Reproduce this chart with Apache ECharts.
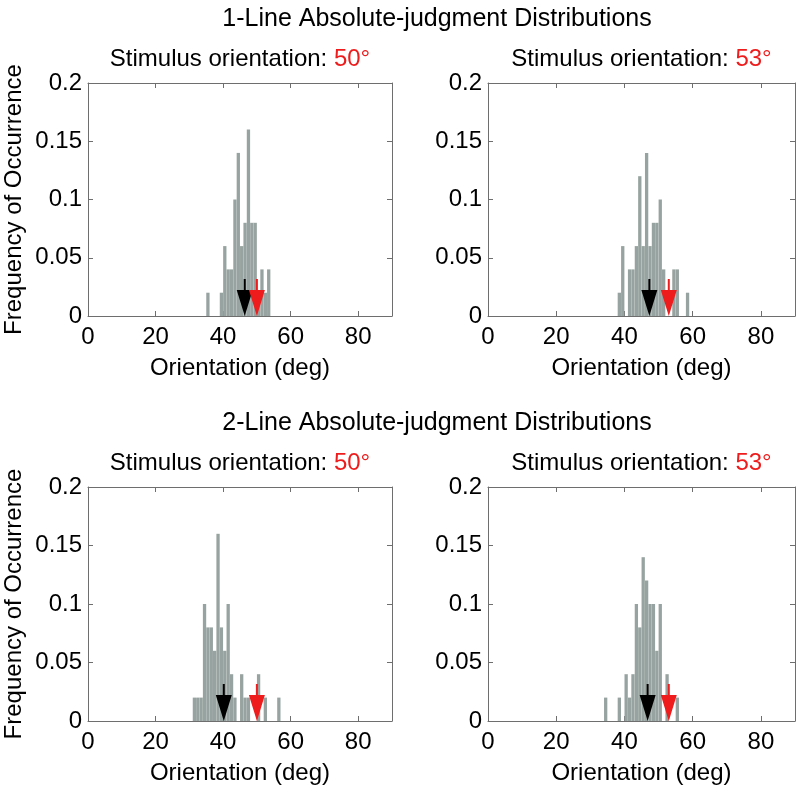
<!DOCTYPE html>
<html>
<head>
<meta charset="utf-8">
<script src="https://cdn.jsdelivr.net/npm/echarts@6.0.0/dist/echarts.min.js"></script>
<style>
  html, body { margin: 0; padding: 0; background: #fff; }
  #main { width: 796px; height: 789px; }
</style>
</head>
<body>
<div id="main"></div>
<script>
// histogram bins (left edge, deg) and frequencies
const oneLine50Bins = [35, 39, 40, 41, 42, 43, 44, 45, 46, 47, 48, 49, 50, 51, 52, 53];
const oneLine50Freq = [0.02, 0.02, 0.06, 0.04, 0.04, 0.10, 0.14, 0.06, 0.08, 0.16, 0.08, 0.08, 0.02, 0.04, 0.02, 0.04];

const oneLine53Bins = [38, 39, 41, 42, 43, 44, 45, 46, 47, 48, 49, 50, 51, 54, 55, 58];
const oneLine53Freq = [0.02, 0.06, 0.04, 0.04, 0.06, 0.12, 0.06, 0.14, 0.06, 0.08, 0.08, 0.10, 0.04, 0.04, 0.04, 0.02];

const twoLine50Bins = [31, 32, 33, 34, 35, 36, 37, 38, 39, 40, 41, 42, 43, 45, 46, 47, 50, 52, 56];
const twoLine50Freq = [0.02, 0.02, 0.02, 0.10, 0.08, 0.08, 0.06, 0.16, 0.08, 0.06, 0.10, 0.04, 0.02, 0.04, 0.02, 0.02, 0.04, 0.02, 0.02];

const twoLine53Bins = [34, 38, 40, 41, 42, 43, 44, 45, 46, 47, 48, 49, 50, 52, 55];
const twoLine53Freq = [0.02, 0.02, 0.04, 0.02, 0.04, 0.10, 0.08, 0.14, 0.12, 0.10, 0.10, 0.06, 0.10, 0.04, 0.02];

// arrows: mean response (black) and stimulus orientation (red)
const meanResponse = [46.4, 47.3, 40.2, 46.8];
const stimulusDeg = [50, 53, 50, 53];

const rowTitles = ['1-Line Absolute-judgment Distributions', '2-Line Absolute-judgment Distributions'];
const xTicks = { min: 0, max: 90, interval: 20 };
const yTicks = { min: 0, max: 0.2, interval: 0.05 };
const binWidth = 1;

const panels = [
  { bins: oneLine50Bins, freq: oneLine50Freq },
  { bins: oneLine53Bins, freq: oneLine53Freq },
  { bins: twoLine50Bins, freq: twoLine50Freq },
  { bins: twoLine53Bins, freq: twoLine53Freq }
];

const font = 'Liberation Sans, Arial, Helvetica, sans-serif';
const frameColor = '#6e6e6e';
const barColor = '#97a3a0';
const red = '#ee1c1c';
const arrowPath = 'path://M7,0 L9,0 L9,11 L16,11 L8,37 L0,11 L7,11 Z';

const grids = [
  { left: 88, top: 83, width: 304, height: 233 },
  { left: 488, top: 83, width: 307, height: 233 },
  { left: 88, top: 487, width: 304, height: 234 },
  { left: 488, top: 487, width: 307, height: 234 }
];

const xAxes = [];
const yAxes = [];
const series = [];

panels.forEach(function (p, i) {
  const leftCol = i % 2 === 0;
  const common = {
    gridIndex: i,
    axisLine: { show: true, onZero: false, lineStyle: { color: frameColor, width: 1 } },
    axisTick: { show: true, inside: true, length: 5, lineStyle: { color: frameColor } },
    splitLine: { show: false }
  };
  xAxes.push(Object.assign({}, common, {
    type: 'value', position: 'bottom',
    min: xTicks.min, max: xTicks.max, interval: xTicks.interval,
    name: 'Orientation (deg)', nameLocation: 'middle', nameGap: 40,
    nameTextStyle: { fontFamily: font, fontSize: 24, color: '#000' },
    axisLabel: { show: true, margin: 9, showMaxLabel: false, fontFamily: font, fontSize: 24, color: '#000' }
  }));
  xAxes.push(Object.assign({}, common, {
    type: 'value', position: 'top',
    min: xTicks.min, max: xTicks.max, interval: xTicks.interval,
    axisLabel: { show: false }
  }));
  yAxes.push(Object.assign({}, common, {
    type: 'value', position: 'left',
    min: yTicks.min, max: yTicks.max, interval: yTicks.interval,
    name: leftCol ? 'Frequency of Occurrence' : '', nameLocation: 'middle', nameGap: 62,
    nameTextStyle: { fontFamily: font, fontSize: 24, color: '#000' },
    axisLabel: { show: true, margin: 6, fontFamily: font, fontSize: 24, color: '#000' }
  }));
  yAxes.push(Object.assign({}, common, {
    type: 'value', position: 'right',
    min: yTicks.min, max: yTicks.max, interval: yTicks.interval,
    axisLabel: { show: false }
  }));

  series.push({
    type: 'bar',
    xAxisIndex: 2 * i, yAxisIndex: 2 * i,
    barWidth: 3.3,
    itemStyle: { color: barColor },
    data: p.bins.map(function (b, k) { return [b + binWidth / 2, p.freq[k]]; }),
    z: 2
  });
  series.push({
    type: 'scatter',
    xAxisIndex: 2 * i, yAxisIndex: 2 * i,
    symbol: arrowPath,
    symbolSize: [16, 37],
    symbolOffset: [0, -18.5],
    clip: false,
    z: 5,
    data: [
      { value: [meanResponse[i], 0], itemStyle: { color: '#000', opacity: 1 } },
      { value: [stimulusDeg[i], 0], itemStyle: { color: red, opacity: 1 } }
    ]
  });
});

const titles = [
  { text: rowTitles[0], left: 437, top: 7 },
  { text: rowTitles[1], left: 437, top: 411 }
].map(function (t) {
  return {
    text: t.text, left: t.left, top: t.top, textAlign: 'center', padding: 0,
    textStyle: { fontFamily: font, fontSize: 25, fontWeight: 'normal', color: '#000' }
  };
});

grids.forEach(function (g, i) {
  titles.push({
    text: '{k|Stimulus orientation: }{v|' + stimulusDeg[i] + '°}',
    left: g.left + g.width / 2, top: g.top - 36, textAlign: 'center', padding: 0,
    textStyle: {
      fontFamily: font, fontSize: 24, fontWeight: 'normal', color: '#000',
      rich: {
        k: { fontFamily: font, fontSize: 24, color: '#000' },
        v: { fontFamily: font, fontSize: 24, color: red }
      }
    }
  });
});

const chart = echarts.init(document.getElementById('main'), null, { renderer: 'canvas' });
chart.setOption({
  backgroundColor: '#fff',
  animation: false,
  title: titles,
  grid: grids,
  xAxis: xAxes,
  yAxis: yAxes,
  series: series
});
</script>
</body>
</html>
